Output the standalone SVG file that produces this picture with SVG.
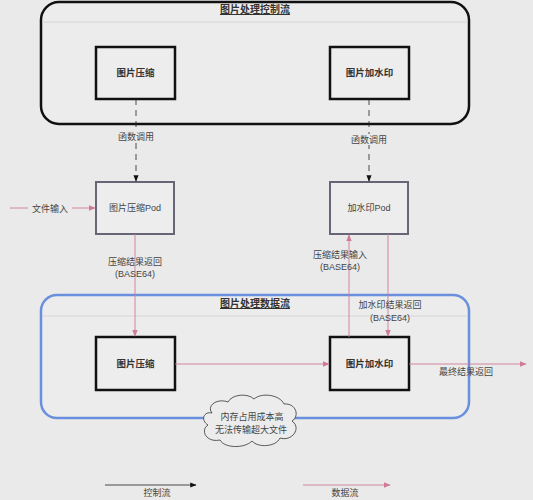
<svg xmlns="http://www.w3.org/2000/svg" width="533" height="500" viewBox="0 0 533 500">
<defs>
<style>
text{font-family:"Liberation Sans","Noto Sans CJK SC",sans-serif;font-size:9px;fill:#444;text-anchor:middle}
.title{font-size:10px;font-weight:bold;fill:#333;text-decoration:underline}
.bold{font-size:9.5px;font-weight:bold;fill:#333}
.box{fill:#ededed;stroke:#111;stroke-width:2.5}
.pod{fill:#ededed;stroke:#666677;stroke-width:2}
.ctl{stroke:#222;stroke-width:0.8;fill:none}
.dash{stroke-dasharray:6 5}
.data{stroke:#d07a9a;stroke-width:0.9;fill:none}
.sep{stroke:#d0d0d0;stroke-width:0.8}
</style>
<marker id="ab" viewBox="0 0 10 10" refX="9" refY="5" markerWidth="8" markerHeight="8" orient="auto"><path d="M0,1 L10,5 L0,9 Z" fill="#111"/></marker>
<marker id="ar" viewBox="0 0 10 10" refX="9" refY="5" markerWidth="8" markerHeight="8" orient="auto"><path d="M0,1 L10,5 L0,9 Z" fill="#d07a9a"/></marker>
</defs>
<rect width="533" height="500" fill="#eaeaea"/>
<g id="control-flow">
<rect x="41" y="2" width="428" height="122" rx="18" fill="#ececec" stroke="#111" stroke-width="2.5"/>
<line class="sep" x1="42" y1="22" x2="468" y2="22"/>
<text class="title" x="255" y="13">图片处理控制流</text>
</g>
<g id="data-flow">
<rect x="41" y="295" width="428" height="123" rx="16" fill="#ececec" stroke="#6a8fdd" stroke-width="2.5"/>
<line class="sep" x1="42" y1="316" x2="468" y2="316"/>
<text class="title" x="255" y="307">图片处理数据流</text>
</g>
<g id="ctl-compress"><rect class="box" x="96" y="47" width="79" height="52"/><text class="bold" x="135.5" y="76">图片压缩</text></g>
<g id="ctl-watermark"><rect class="box" x="330" y="47" width="79" height="52"/><text class="bold" x="369.5" y="76">图片加水印</text></g>
<g id="pod-compress"><rect class="pod" x="96" y="182" width="78" height="52"/><text x="135" y="211">图片压缩Pod</text></g>
<g id="pod-watermark"><rect class="pod" x="330" y="182" width="78" height="52"/><text x="369" y="211">加水印Pod</text></g>
<g id="data-compress"><rect class="box" x="96" y="337" width="79" height="53"/><text class="bold" x="135.5" y="367">图片压缩</text></g>
<g id="data-watermark"><rect class="box" x="330" y="337" width="79" height="53"/><text class="bold" x="369.5" y="367">图片加水印</text></g>
<g id="cloud">
<path d="M212,413 C206,405 218,398 228,402 C232,394 248,393 254,399 C262,392 280,395 284,404 C296,403 300,416 292,421 C302,428 292,442 280,438 C276,447 258,448 252,441 C244,449 224,448 220,440 C206,443 200,430 208,425 C200,420 204,411 212,413 Z" fill="#ececec" stroke="#333" stroke-width="0.8"/>
<text x="252" y="420">内存占用成本高</text>
<text x="251" y="433">无法传输超大文件</text>
</g>
<g id="connectors">
<line class="ctl dash" x1="136" y1="99" x2="136" y2="181" marker-end="url(#ab)"/>
<line class="ctl dash" x1="369" y1="99" x2="369" y2="181" marker-end="url(#ab)"/>
<line class="data" x1="10" y1="208" x2="95" y2="208" marker-end="url(#ar)"/>
<line class="data" x1="135" y1="234" x2="135" y2="336" marker-end="url(#ar)"/>
<line class="data" x1="349" y1="337" x2="349" y2="235" marker-end="url(#ar)"/>
<line class="data" x1="388" y1="234" x2="388" y2="336" marker-end="url(#ar)"/>
<line class="data" x1="175" y1="364" x2="329" y2="364" marker-end="url(#ar)"/>
<line class="data" x1="409" y1="364" x2="526" y2="364" marker-end="url(#ar)"/>
<rect x="113" y="131" width="46" height="11" fill="#eaeaea"/>
<text x="136" y="140">函数调用</text>
<rect x="346" y="134" width="46" height="11" fill="#eaeaea"/>
<text x="369" y="143">函数调用</text>
<rect x="28" y="203" width="44" height="11" fill="#eaeaea"/>
<text x="50" y="212">文件输入</text>
<text x="135" y="265">压缩结果返回</text>
<text x="135" y="277">(BASE64)</text>
<text x="340" y="258">压缩结果输入</text>
<text x="340" y="270">(BASE64)</text>
<text x="390" y="308">加水印结果返回</text>
<text x="390" y="321">(BASE64)</text>
<text x="466" y="375">最终结果返回</text>
</g>
<g id="legend">
<line class="ctl" x1="105" y1="485" x2="196" y2="485" marker-end="url(#ab)"/>
<text x="157" y="496">控制流</text>
<line class="data" x1="303" y1="485" x2="390" y2="485" marker-end="url(#ar)"/>
<text x="345" y="496">数据流</text>
</g>
</svg>
